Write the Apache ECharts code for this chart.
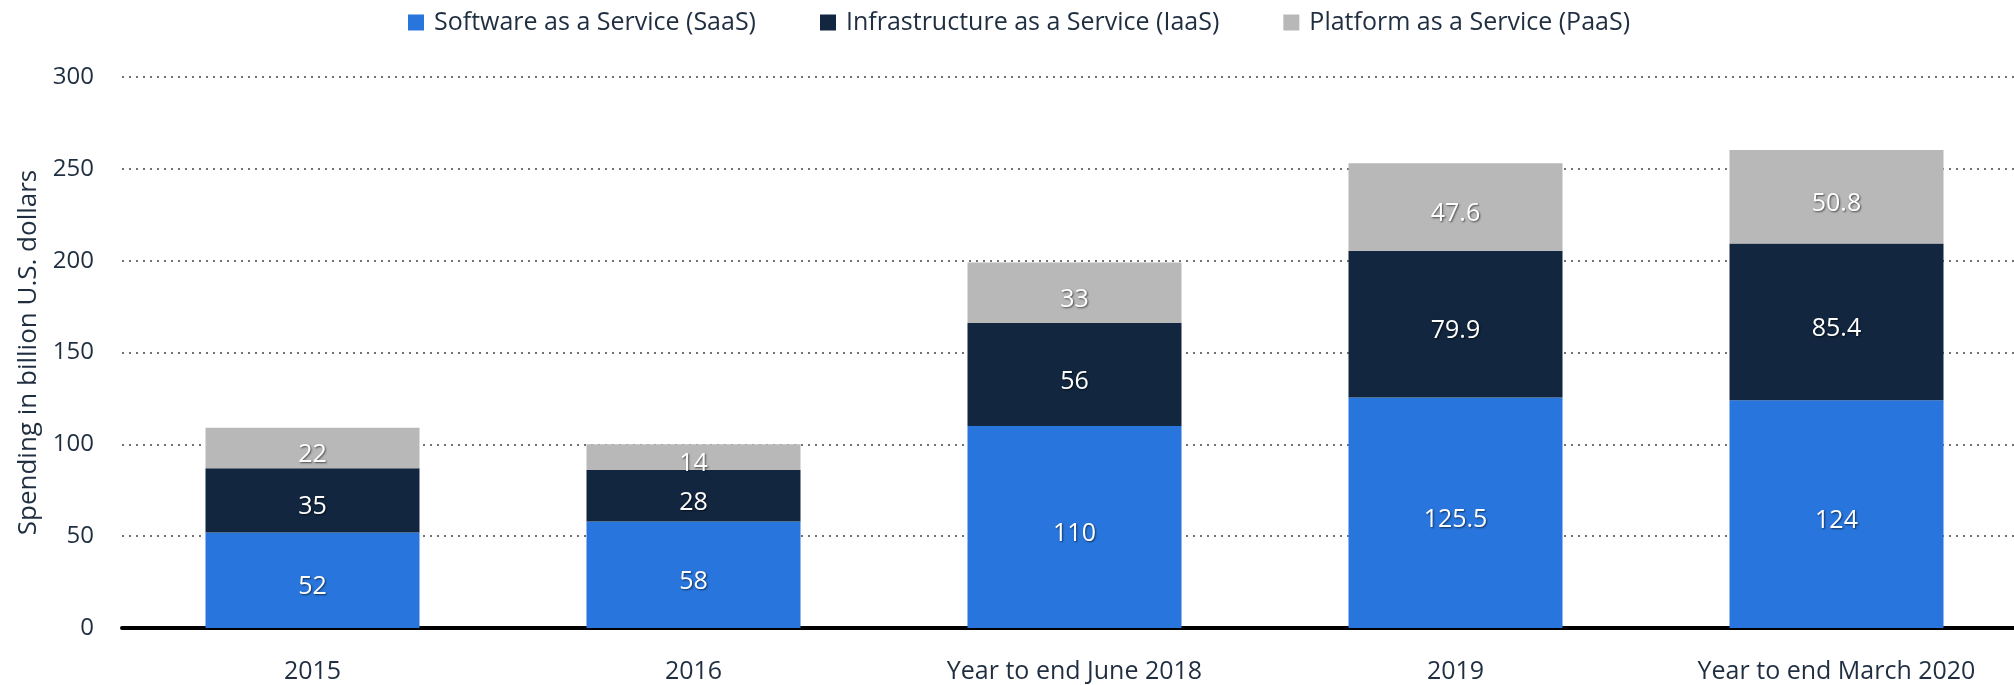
<!DOCTYPE html>
<html>
<head>
<meta charset="utf-8">
<script src="https://cdn.jsdelivr.net/npm/echarts@6/dist/echarts.min.js"></script>
<style>
  html, body { margin: 0; padding: 0; background: #fff; }
  #chart { width: 2014px; height: 685px; }
</style>
</head>
<body>
<div id="chart"></div>
<script>
// data
const categories = ["2015", "2016", "Year to end June 2018", "2019", "Year to end March 2020"]
const saas = [52, 58, 110, 125.5, 124]
const iaas = [35, 28, 56, 79.9, 85.4]
const paas = [22, 14, 33, 47.6, 50.8]
const yTicks = [0, 50, 100, 150, 200, 250, 300]

const textColor = "#1f2e40"
const font = "Open Sans"

const labelStyle = {
  show: true,
  position: "inside",
  offset: [0, 7],
  color: "#fff",
  fontFamily: font,
  fontSize: 25,
  textShadowColor: "rgba(0,0,0,0.6)",
  textShadowBlur: 2,
  textShadowOffsetX: 1,
  textShadowOffsetY: 1
}

function barSeries(name, data, color) {
  return {
    name: name,
    type: "bar",
    stack: "total",
    data: data,
    barWidth: 214,
    itemStyle: {color: color},
    label: labelStyle,
    emphasis: {disabled: true}
  }
}

const chart = echarts.init(document.getElementById("chart"))
chart.setOption({
  animation: false,
  textStyle: {fontFamily: font, color: textColor},
  legend: {
    top: 5,
    left: 403,
    itemWidth: 16,
    itemHeight: 16,
    itemGap: 64,
    icon: "rect",
    textStyle: {fontFamily: font, fontSize: 25, color: textColor, padding: [0, 0, 0, 5]}
  },
  // plot runs past the right edge, as in the reference
  grid: {left: 122, width: 1905, top: 77, bottom: 57, outerBoundsMode: "none"},
  xAxis: {
    type: "category",
    data: categories,
    offset: 2,
    axisTick: {show: false},
    axisLine: {lineStyle: {color: "#000", width: 4}},
    axisLabel: {color: textColor, fontSize: 25, margin: 29, fontFamily: font}
  },
  yAxis: {
    type: "value",
    min: yTicks[0],
    max: yTicks[yTicks.length - 1],
    interval: 50,
    name: "Spending in billion U.S. dollars",
    nameLocation: "middle",
    nameGap: 80,
    nameTextStyle: {color: textColor, fontSize: 26, fontFamily: font},
    axisLabel: {color: textColor, fontSize: 24, margin: 28, fontFamily: font},
    splitLine: {lineStyle: {type: [2, 5], color: "#444", width: 1.5}}
  },
  series: [
    barSeries("Software as a Service (SaaS)", saas, "#2876dd"),
    barSeries("Infrastructure as a Service (IaaS)", iaas, "#12263f"),
    barSeries("Platform as a Service (PaaS)", paas, "#b8b8b8")
  ]
})
</script>
</body>
</html>
